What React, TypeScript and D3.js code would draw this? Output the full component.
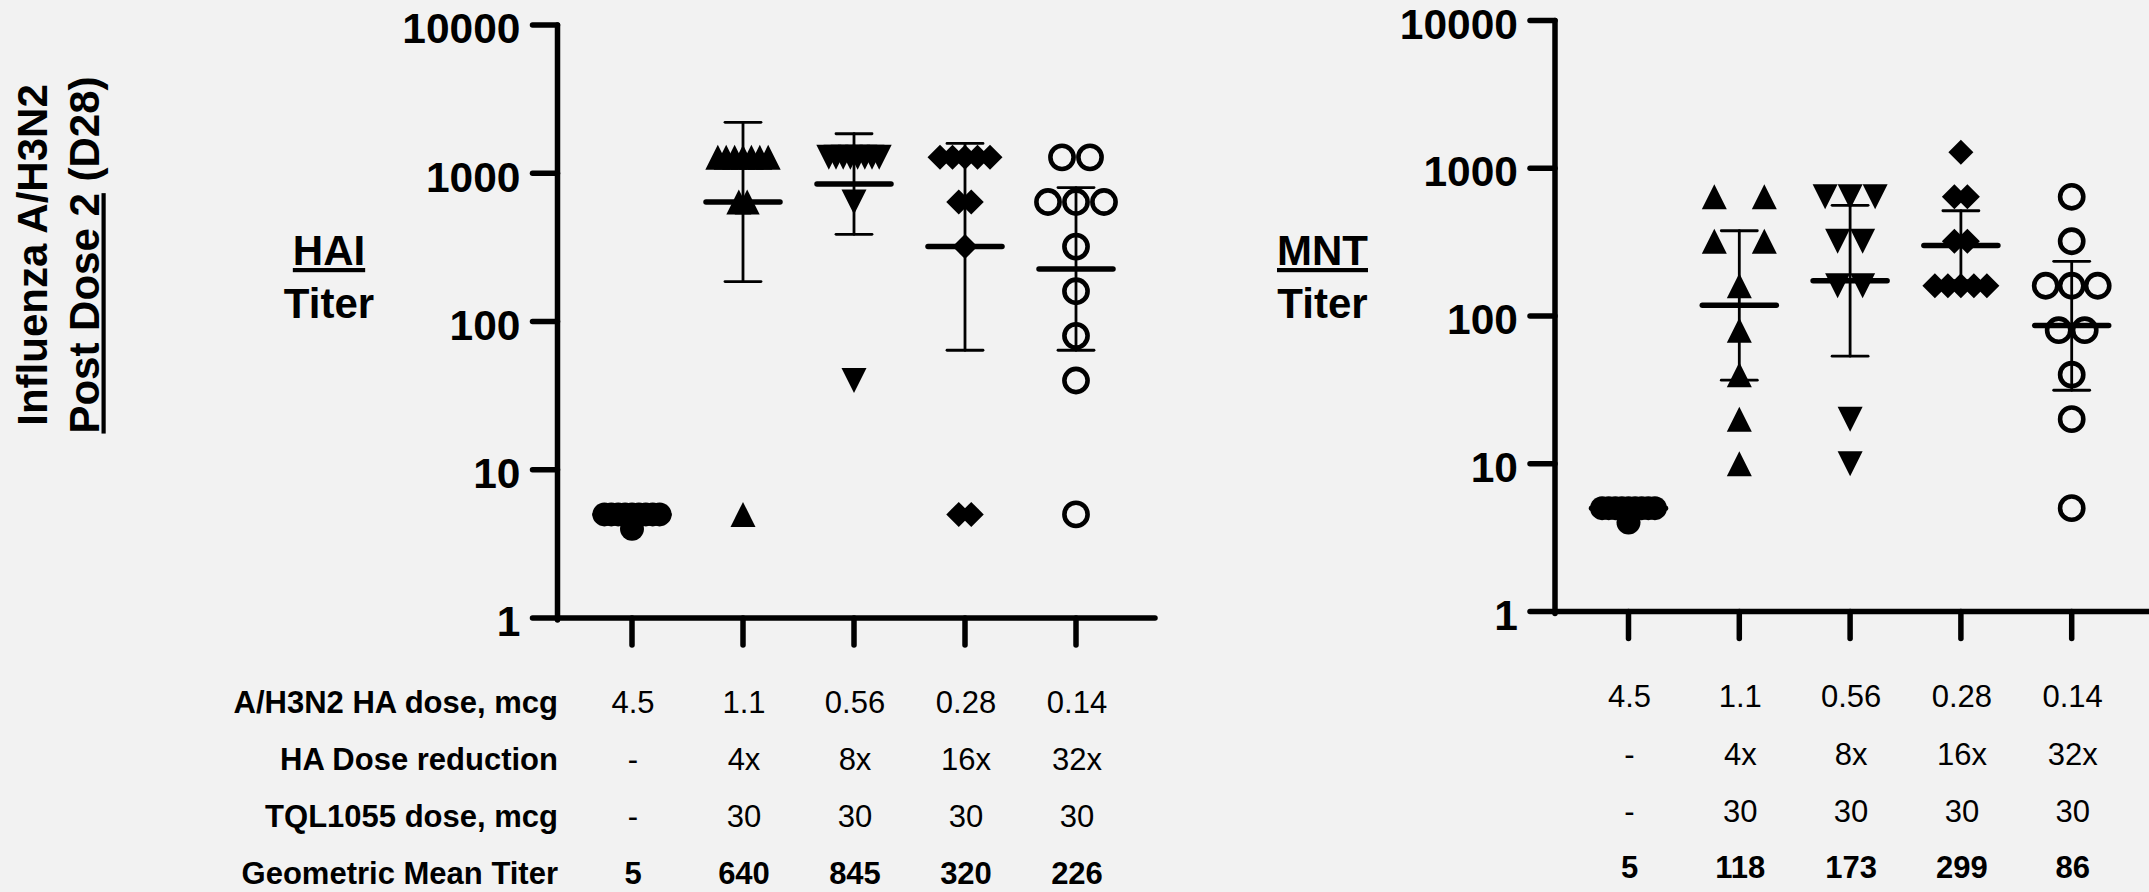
import React, { useLayoutEffect } from 'react';
import * as d3 from 'd3';

// ---------- data ----------
const groups = ['4.5', '1.1', '0.56', '0.28', '0.14'];
const yTicks = [1, 10, 100, 1000, 10000];

const rowLabels = ['A/H3N2 HA dose, mcg', 'HA Dose reduction', 'TQL1055 dose, mcg', 'Geometric Mean Titer'];
const haDose = ['4.5', '1.1', '0.56', '0.28', '0.14'];
const doseReduction = ['-', '4x', '8x', '16x', '32x'];
const tqlDose = ['-', '30', '30', '30', '30'];

// HAI titers per subject
const haiG1 = [5, 5, 5, 5, 5, 5, 5, 5, 5, 4];
const haiG2 = [1280, 1280, 1280, 1280, 1280, 1280, 1280, 640, 640, 5];
const haiG3 = [1280, 1280, 1280, 1280, 1280, 1280, 1280, 1280, 640, 40];
const haiG4 = [1280, 1280, 1280, 1280, 1280, 640, 640, 320, 5, 5];
const haiG5 = [1280, 1280, 640, 640, 640, 320, 160, 80, 40, 5];
const haiGMT = [5, 640, 845, 320, 226];
const haiUpper = [5, 2204, 1847, 1589, 800];
const haiLower = [5, 186, 387, 64, 64];

// MNT titers per subject
const mntG1 = [5, 5, 5, 5, 5, 5, 5, 5, 5, 4];
const mntG2 = [640, 640, 320, 320, 160, 80, 40, 20, 10];
const mntG3 = [640, 640, 640, 320, 320, 160, 160, 20, 10];
const mntG4 = [1280, 640, 640, 320, 320, 160, 160, 160, 160, 160];
const mntG5 = [640, 320, 160, 160, 160, 80, 80, 40, 20, 5];
const mntGMT = [5, 118, 173, 299, 86];
const mntUpper = [5, 377, 560, 515, 234];
const mntLower = [5, 36.7, 53.4, 173, 31.4];

// ---------- styling / layout ----------
const FONT = 'Liberation Sans, Arial, Helvetica, sans-serif';
const BG = '#f2f2f2';
const AXIS_W = 5.5;

const triUp = {
  draw(ctx: any, size: number) {
    const h = size / 2;
    ctx.moveTo(0, -h);
    ctx.lineTo(h, h);
    ctx.lineTo(-h, h);
    ctx.closePath();
  },
};
const triDown = {
  draw(ctx: any, size: number) {
    const h = size / 2;
    ctx.moveTo(0, h);
    ctx.lineTo(h, -h);
    ctx.lineTo(-h, -h);
    ctx.closePath();
  },
};
const diamond = {
  draw(ctx: any, size: number) {
    const h = size / 2;
    ctx.moveTo(0, -h);
    ctx.lineTo(h, 0);
    ctx.lineTo(0, h);
    ctx.lineTo(-h, 0);
    ctx.closePath();
  },
};

type SymKind = 'fcircle' | 'up' | 'down' | 'diamond' | 'ocircle';
const groupSymbols: SymKind[] = ['fcircle', 'up', 'down', 'diamond', 'ocircle'];

function symbolEl(kind: SymKind, x: number, y: number, key: string) {
  if (kind === 'fcircle') return <circle key={key} cx={x} cy={y} r={12} fill="#000" />;
  if (kind === 'ocircle')
    return <circle key={key} cx={x} cy={y} r={11.6} fill="none" stroke="#000" strokeWidth={4.6} />;
  const t = kind === 'up' ? triUp : kind === 'down' ? triDown : diamond;
  const d = d3.symbol().type(t as any).size(25)() as string;
  return <path key={key} d={d} transform={`translate(${x},${y})`} fill="#000" />;
}

function spread(values: number[], step: number): number[] {
  const counts = new Map<number, number>();
  values.forEach((v) => counts.set(v, (counts.get(v) || 0) + 1));
  const seen = new Map<number, number>();
  return values.map((v) => {
    const k = counts.get(v)!;
    const i = seen.get(v) || 0;
    seen.set(v, i + 1);
    return (i - (k - 1) / 2) * step;
  });
}

interface PanelProps {
  data: number[][];
  gmt: number[];
  upper: number[];
  lower: number[];
  steps: number[];
  axisX: number;
  xEnd: number;
  yRange: [number, number];
  xRange: [number, number];
  rowBaselines: number[];
  showRowLabels: boolean;
  gmtValues: number[];
  title: string;
  titleX: number;
  titleY: number;
}

function Panel(p: PanelProps) {
  const y = d3.scaleLog().domain([1, 10000]).range(p.yRange);
  const x = d3.scalePoint<string>().domain(groups).range(p.xRange);
  const yBottom = y(1);
  const yTop = y(10000);
  const rows = [haDose, doseReduction, tqlDose, p.gmtValues.map(String)];
  return (
    <g>
      {/* axes */}
      <line x1={p.axisX} x2={p.axisX} y1={yTop} y2={yBottom + 2} stroke="#000" strokeWidth={AXIS_W} strokeLinecap="round" />
      <line x1={p.axisX} x2={p.xEnd} y1={yBottom} y2={yBottom} stroke="#000" strokeWidth={AXIS_W} strokeLinecap="round" />
      {yTicks.map((t) => (
        <g key={'yt' + t}>
          <line x1={p.axisX - 25} x2={p.axisX} y1={y(t)} y2={y(t)} stroke="#000" strokeWidth={AXIS_W} strokeLinecap="round" />
          <text x={p.axisX - 37} y={y(t) + 18.3} textAnchor="end" fontFamily={FONT} fontWeight="bold" fontSize={42.5} fill="#000">
            {String(t)}
          </text>
        </g>
      ))}
      {groups.map((g) => (
        <line key={'xt' + g} x1={x(g)} x2={x(g)} y1={yBottom} y2={yBottom + 27} stroke="#000" strokeWidth={AXIS_W} strokeLinecap="round" />
      ))}
      {/* error bars */}
      {groups.map((g, i) => {
        const cx = x(g) as number;
        const hasErr = p.upper[i] !== p.lower[i];
        return (
          <g key={'m' + g}>
            {hasErr && (
              <g stroke="#000" strokeWidth={2.8} strokeLinecap="round">
                <line x1={cx} x2={cx} y1={y(p.upper[i])} y2={y(p.lower[i])} />
                <line x1={cx - 18} x2={cx + 18} y1={y(p.upper[i])} y2={y(p.upper[i])} />
                <line x1={cx - 18} x2={cx + 18} y1={y(p.lower[i])} y2={y(p.lower[i])} />
              </g>
            )}
          </g>
        );
      })}
      {/* points */}
      {p.data.map((vals, gi) => {
        const cx = x(groups[gi]) as number;
        const offs = spread(vals, p.steps[gi]);
        return (
          <g key={'pts' + gi}>
            {vals.map((v, j) => symbolEl(groupSymbols[gi], cx + offs[j], y(v), `p${gi}-${j}`))}
          </g>
        );
      })}
      {/* geometric means */}
      {groups.map((g, i) => {
        const cx = x(g) as number;
        return (
          <line key={'mean' + g} x1={cx - 37} x2={cx + 37} y1={y(p.gmt[i])} y2={y(p.gmt[i])} stroke="#000" strokeWidth={5.5} strokeLinecap="round" />
        );
      })}
      {/* side title */}
      <text x={p.titleX} y={p.titleY} textAnchor="middle" fontFamily={FONT} fontWeight="bold" fontSize={42} fill="#000" textDecoration="underline">
        {p.title}
      </text>
      <text x={p.titleX} y={p.titleY + 53} textAnchor="middle" fontFamily={FONT} fontWeight="bold" fontSize={42} fill="#000">
        Titer
      </text>
      {/* table */}
      {rows.map((row, ri) => (
        <g key={'row' + ri}>
          {p.showRowLabels && (
            <text x={p.axisX + 0.5} y={p.rowBaselines[ri]} textAnchor="end" fontFamily={FONT} fontWeight="bold" fontSize={31} fill="#000">
              {rowLabels[ri]}
            </text>
          )}
          {row.map((txt, ci) => (
            <text
              key={'c' + ci}
              x={(x(groups[ci]) as number) + 1}
              y={p.rowBaselines[ri]}
              textAnchor="middle"
              fontFamily={FONT}
              fontWeight={ri === 3 ? 'bold' : 'normal'}
              fontSize={31}
              fill="#000"
            >
              {txt}
            </text>
          ))}
        </g>
      ))}
    </g>
  );
}

export default function App() {
  useLayoutEffect(() => {
    document.body.style.margin = '0';
    document.body.style.background = BG;
  }, []);
  return (
    <svg width={2149} height={892} style={{ display: 'block', background: BG }}>
      <rect x={0} y={0} width={2149} height={892} fill={BG} />
      {/* rotated title */}
      <g fontFamily={FONT} fontWeight="bold" fontSize={42} fill="#000">
        <text transform="translate(46.5,255) rotate(-90)" textAnchor="middle">
          Influenza A/H3N2
        </text>
        <text transform="translate(98.5,255) rotate(-90)" textAnchor="middle">
          <tspan textDecoration="underline">Post Dose 2</tspan> (D28)
        </text>
      </g>
      <Panel
        data={[haiG1, haiG2, haiG3, haiG4, haiG5]}
        gmt={haiGMT}
        upper={haiUpper}
        lower={haiLower}
        steps={[6.9, 8.4, 7.2, 12.5, 28]}
        axisX={557.5}
        xEnd={1155}
        yRange={[618, 25]}
        xRange={[632, 1076]}
        rowBaselines={[713, 770, 827, 884]}
        showRowLabels={true}
        gmtValues={haiGMT}
        title="HAI"
        titleX={329}
        titleY={265}
      />
      <Panel
        data={[mntG1, mntG2, mntG3, mntG4, mntG5]}
        gmt={mntGMT}
        upper={mntUpper}
        lower={mntLower}
        steps={[6.6, 50, 25, 13, 26]}
        axisX={1555}
        xEnd={2170}
        yRange={[611.4, 20.4]}
        xRange={[1628.5, 2071.7]}
        rowBaselines={[707, 765, 822, 878]}
        showRowLabels={false}
        gmtValues={mntGMT}
        title="MNT"
        titleX={1322.5}
        titleY={265}
      />
    </svg>
  );
}
